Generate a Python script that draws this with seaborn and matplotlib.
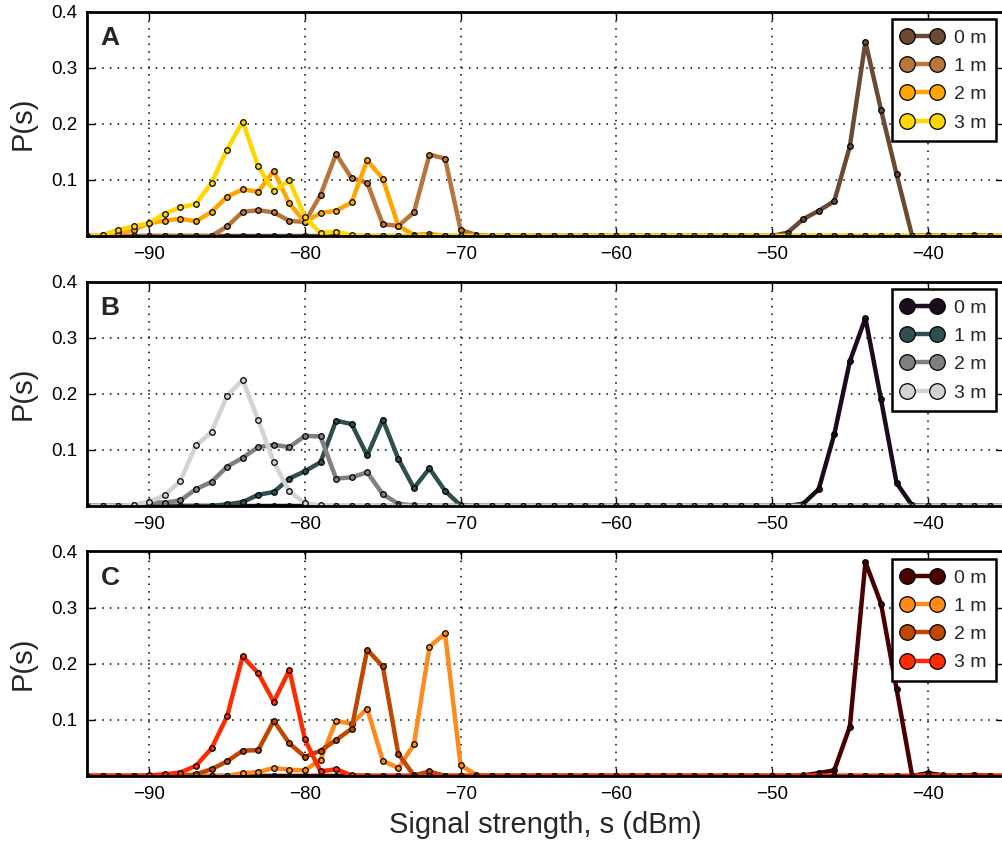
import numpy as np
import matplotlib
matplotlib.use("Agg")
import matplotlib.pyplot as plt
import seaborn as sns

# signal strength bins (dBm), one value per bin
s = np.arange(-94, -34)

labels = ["0 m", "1 m", "2 m", "3 m"]

# panel A
a_0m = [0, 0, 0, 0, 0, 0, 0, 0, 0, 0,
        0, 0, 0, 0, 0, 0, 0, 0, 0, 0,
        0, 0, 0, 0, 0, 0, 0, 0, 0, 0,
        0, 0, 0, 0, 0, 0, 0, 0, 0, 0,
        0, 0, 0, 0, 0, 0.006, 0.030, 0.045, 0.062, 0.160,
        0.346, 0.225, 0.110, 0, 0.001, 0, 0, 0.002, 0, 0]
a_1m = [0, 0, 0, 0, 0, 0, 0, 0, 0, 0.017,
        0.043, 0.046, 0.042, 0.027, 0.025, 0.073, 0.146, 0.103, 0.095, 0.021,
        0.018, 0.042, 0.145, 0.138, 0.011, 0.002, 0, 0, 0, 0,
        0, 0, 0, 0, 0, 0, 0, 0, 0, 0,
        0, 0, 0, 0, 0, 0, 0, 0, 0, 0,
        0, 0, 0, 0, 0, 0, 0, 0, 0, 0]
a_2m = [0, 0.001, 0.005, 0.011, 0.023, 0.027, 0.031, 0.026, 0.043, 0.070,
        0.083, 0.079, 0.116, 0.058, 0.025, 0.041, 0.045, 0.060, 0.135, 0.102,
        0.018, 0.002, 0.004, 0, 0, 0, 0, 0, 0, 0,
        0, 0, 0, 0, 0, 0, 0, 0, 0, 0,
        0, 0, 0, 0, 0, 0, 0, 0, 0, 0,
        0, 0, 0, 0, 0, 0, 0, 0, 0, 0]
a_3m = [0, 0.002, 0.011, 0.017, 0.023, 0.040, 0.051, 0.057, 0.095, 0.154,
        0.204, 0.124, 0.080, 0.099, 0.034, 0.005, 0.008, 0.001, 0, 0,
        0, 0, 0, 0, 0, 0, 0, 0, 0, 0,
        0, 0, 0, 0, 0, 0, 0, 0, 0, 0,
        0, 0, 0, 0, 0, 0, 0, 0, 0, 0,
        0, 0, 0, 0, 0, 0, 0, 0, 0, 0]

# panel B
b_0m = [0, 0, 0, 0, 0, 0, 0, 0, 0, 0,
        0, 0, 0, 0, 0, 0, 0, 0, 0, 0,
        0, 0, 0, 0, 0, 0, 0, 0, 0, 0,
        0, 0, 0, 0, 0, 0, 0, 0, 0, 0,
        0, 0, 0, 0, 0, 0, 0.004, 0.030, 0.128, 0.258,
        0.335, 0.190, 0.041, 0.001, 0, 0, 0, 0, 0, 0]
b_1m = [0, 0, 0, 0, 0, 0, 0, 0, 0, 0.003,
        0.007, 0.020, 0.025, 0.049, 0.062, 0.078, 0.152, 0.146, 0.090, 0.154,
        0.084, 0.032, 0.067, 0.027, 0.001, 0, 0, 0, 0, 0,
        0, 0, 0, 0, 0, 0, 0, 0, 0, 0,
        0, 0, 0, 0, 0, 0, 0, 0, 0, 0,
        0, 0, 0, 0, 0, 0, 0, 0, 0, 0]
b_2m = [0, 0, 0, 0.001, 0.007, 0.006, 0.010, 0.030, 0.043, 0.070,
        0.086, 0.105, 0.109, 0.105, 0.125, 0.124, 0.049, 0.051, 0.060, 0.021,
        0.004, 0.001, 0, 0, 0, 0, 0, 0, 0, 0,
        0, 0, 0, 0, 0, 0, 0, 0, 0, 0,
        0, 0, 0, 0, 0, 0, 0, 0, 0, 0,
        0, 0, 0, 0, 0, 0, 0, 0, 0, 0]
b_3m = [0, 0, 0, 0.002, 0.008, 0.019, 0.045, 0.108, 0.132, 0.196,
        0.225, 0.153, 0.078, 0.026, 0.005, 0.001, 0, 0, 0, 0,
        0, 0, 0, 0, 0, 0, 0, 0, 0, 0,
        0, 0, 0, 0, 0, 0, 0, 0, 0, 0,
        0, 0, 0, 0, 0, 0, 0, 0, 0, 0,
        0, 0, 0, 0, 0, 0, 0, 0, 0, 0]

# panel C
c_0m = [0, 0, 0, 0, 0, 0, 0, 0, 0, 0,
        0, 0, 0, 0, 0, 0, 0, 0, 0, 0,
        0, 0, 0, 0, 0, 0, 0, 0, 0, 0,
        0, 0, 0, 0, 0, 0, 0, 0, 0, 0,
        0, 0, 0, 0, 0, 0, 0.001, 0.005, 0.010, 0.088,
        0.381, 0.307, 0.155, 0, 0.005, 0.001, 0, 0.002, 0, 0]
c_1m = [0, 0, 0, 0, 0, 0, 0, 0, 0, 0,
        0.005, 0.007, 0.014, 0.011, 0.010, 0.029, 0.098, 0.093, 0.120, 0.027,
        0.014, 0.056, 0.230, 0.254, 0.019, 0.002, 0, 0, 0, 0,
        0, 0, 0, 0, 0, 0, 0, 0, 0, 0,
        0, 0, 0, 0, 0, 0, 0, 0, 0, 0,
        0, 0, 0, 0, 0, 0, 0, 0, 0, 0]
c_2m = [0, 0, 0, 0, 0, 0, 0, 0.003, 0.012, 0.026,
        0.045, 0.046, 0.098, 0.058, 0.034, 0.045, 0.064, 0.084, 0.225, 0.195,
        0.039, 0.001, 0.008, 0, 0, 0, 0, 0, 0, 0,
        0, 0, 0, 0, 0, 0, 0, 0, 0, 0,
        0, 0, 0, 0, 0, 0, 0, 0, 0, 0,
        0, 0, 0, 0, 0, 0, 0, 0, 0, 0]
c_3m = [0, 0, 0, 0, 0.001, 0.003, 0.006, 0.018, 0.049, 0.106,
        0.213, 0.183, 0.132, 0.189, 0.065, 0.008, 0.012, 0.001, 0, 0,
        0, 0, 0, 0, 0, 0, 0, 0, 0, 0,
        0, 0, 0, 0, 0, 0, 0, 0, 0, 0,
        0, 0, 0, 0, 0, 0, 0, 0, 0, 0,
        0, 0, 0, 0, 0, 0, 0, 0, 0, 0]

colors_a = ["#6b4a33", "#b8763a", "#ffa500", "#ffd700"]
colors_b = ["#1c0b1c", "#2f4f4f", "#808080", "#d3d3d3"]
colors_c = ["#4a0000", "#ff8a1c", "#bf4700", "#ff2a00"]

panels = [
    ("A", [a_0m, a_1m, a_2m, a_3m], colors_a),
    ("B", [b_0m, b_1m, b_2m, b_3m], colors_b),
    ("C", [c_0m, c_1m, c_2m, c_3m], colors_c),
]

sns.set_style("ticks")
plt.rcParams["font.family"] = ["Liberation Sans", "DejaVu Sans"]

fig = plt.figure(figsize=(10.03, 8.48), dpi=100)
bottoms = [0.7217, 0.4033, 0.0850]

for (letter, series, colors), b in zip(panels, bottoms):
    ax = fig.add_axes([0.0867, b, 0.9143, 0.2647])
    for vals, c, lab in zip(series, colors, labels):
        sns.lineplot(x=s, y=vals, color=c, linewidth=3.2, marker="o", markersize=4,
                     markerfacecolor=c, markeredgecolor="k", markeredgewidth=0.9,
                     errorbar=None, label=lab, ax=ax)
    ax.set_xlim(-94, -35.1)
    ax.set_ylim(0, 0.4)
    ax.set_xticks([-90, -80, -70, -60, -50, -40])
    ax.set_yticks([0.1, 0.2, 0.3, 0.4])
    ax.grid(True, linestyle=(0, (1, 4)), color="k", linewidth=1.1)
    ax.tick_params(direction="in", length=6, width=1, top=True, right=True,
                   labelsize=13.5, pad=7, colors="k")
    for sp in ax.spines.values():
        sp.set_linewidth(2)
        sp.set_color("k")
    ax.set_ylabel("P(s)", fontsize=21, labelpad=10)
    ax.set_xlabel("")
    ax.text(0.015, 0.935, letter, transform=ax.transAxes, ha="left", va="top",
            fontsize=19, fontweight="bold")
    leg = ax.legend(loc="upper right", numpoints=2, markerscale=2.8, fontsize=14,
                    fancybox=False, framealpha=1, edgecolor="k", handlelength=2.1,
                    borderaxespad=0.4, labelspacing=0.55, handletextpad=0.6,
                    borderpad=0.5)
    leg.get_frame().set_linewidth(1.8)

ax.set_xlabel("Signal strength, s (dBm)", fontsize=21, labelpad=6)

fig.savefig("out.png", dpi=100)
